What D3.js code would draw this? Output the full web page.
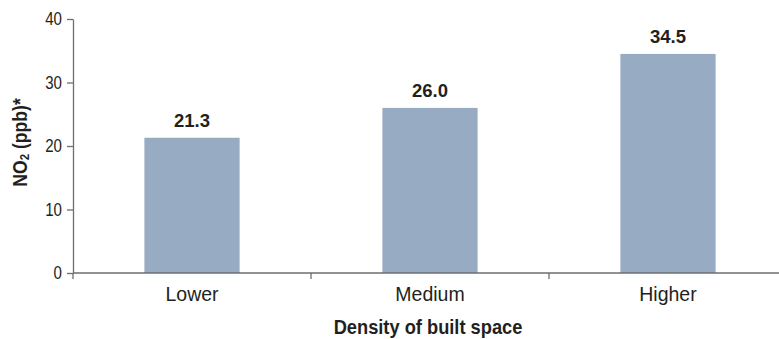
<!DOCTYPE html>
<html>
<head>
<meta charset="utf-8">
<script src="https://cdn.jsdelivr.net/npm/d3@7"></script>
<style>
  html, body { margin: 0; padding: 0; background: #fff; }
  svg { display: block; }
</style>
</head>
<body>
<svg id="chart" width="779" height="339"></svg>
<script>
// NO2 concentration by density of built space
const categories = ["Lower", "Medium", "Higher"];
const values = [21.3, 26.0, 34.5];
const valueLabels = ["21.3", "26.0", "34.5"];
const yTicks = [0, 10, 20, 30, 40];

const svg = d3.select("#chart");
const plotLeft = 73, plotRight = 787, plotTop = 19, plotBottom = 273;
const axisColor = "#6d6e71";
const textColor = "#231f20";
const font = "'Liberation Sans', Arial, Helvetica, sans-serif";

// squeeze text horizontally around its anchor to get a condensed face
function condense(sel, s) {
  sel.each(function () {
    const t = d3.select(this);
    const x0 = +t.attr("x") || 0;
    t.attr("x", x0 / s).attr("transform", `scale(${s},1)`);
  });
}

const x = d3.scaleBand()
  .domain(categories)
  .range([plotLeft, plotRight])
  .paddingInner(0.6)
  .paddingOuter(0.3);

const y = d3.scaleLinear()
  .domain([0, 40])
  .range([plotBottom, plotTop]);

// bars
svg.append("g")
  .selectAll("rect")
  .data(categories)
  .join("rect")
  .attr("x", d => x(d))
  .attr("width", x.bandwidth())
  .attr("y", (d, i) => y(values[i]))
  .attr("height", (d, i) => y(0) - y(values[i]))
  .attr("fill", "#97abc3");

// value labels
svg.append("g")
  .selectAll("text")
  .data(categories)
  .join("text")
  .attr("x", d => x(d) + x.bandwidth() / 2)
  .attr("y", (d, i) => y(values[i]) - 11)
  .attr("text-anchor", "middle")
  .attr("font-family", font)
  .attr("font-weight", "bold")
  .attr("font-size", 18.5)
  .attr("fill", textColor)
  .text((d, i) => valueLabels[i]);

// y axis
const yAxis = svg.append("g")
  .attr("transform", `translate(${plotLeft},0)`)
  .call(d3.axisLeft(y).tickValues(yTicks).tickSize(6).tickSizeOuter(0).tickPadding(5));
yAxis.select(".domain").attr("stroke", axisColor).attr("stroke-width", 1.3);
yAxis.selectAll(".tick line").attr("stroke", axisColor).attr("stroke-width", 1.3);
yAxis.selectAll(".tick text")
  .attr("font-family", font)
  .attr("font-size", 18)
  .attr("fill", textColor)
  .call(condense, 0.84);

// x axis: baseline with ticks at category boundaries
const xAxis = svg.append("g");
xAxis.append("line")
  .attr("x1", plotLeft).attr("x2", plotRight)
  .attr("y1", y(0)).attr("y2", y(0))
  .attr("stroke", axisColor).attr("stroke-width", 1.3);
const boundaries = d3.range(categories.length + 1).map(i => x.range()[0] + i * x.step());
xAxis.selectAll(".bt")
  .data(boundaries)
  .join("line")
  .attr("x1", d => d).attr("x2", d => d)
  .attr("y1", y(0)).attr("y2", y(0) + 6)
  .attr("stroke", axisColor).attr("stroke-width", 1.3);
xAxis.selectAll(".cat")
  .data(categories)
  .join("text")
  .attr("x", d => x(d) + x.bandwidth() / 2)
  .attr("y", 301)
  .attr("text-anchor", "middle")
  .attr("font-family", font)
  .attr("font-size", 19.5)
  .attr("fill", textColor)
  .text(d => d);

// axis titles
svg.append("text")
  .attr("x", x("Medium") + x.bandwidth() / 2 - 2)
  .attr("y", 334.5)
  .attr("text-anchor", "middle")
  .attr("font-family", font)
  .attr("font-weight", "bold")
  .attr("font-size", 21)
  .attr("fill", textColor)
  .text("Density of built space")
  .call(condense, 0.87);

const yTitle = svg.append("text")
  .attr("transform", "translate(27,142.5) rotate(-90) scale(0.88,1)")
  .attr("text-anchor", "middle")
  .attr("font-family", font)
  .attr("font-weight", "bold")
  .attr("font-size", 20)
  .attr("fill", textColor);
yTitle.append("tspan").text("NO");
yTitle.append("tspan").attr("font-size", 13).attr("dy", 2).text("2");
yTitle.append("tspan").attr("dy", -2).text(" (ppb)*");
</script>
</body>
</html>
